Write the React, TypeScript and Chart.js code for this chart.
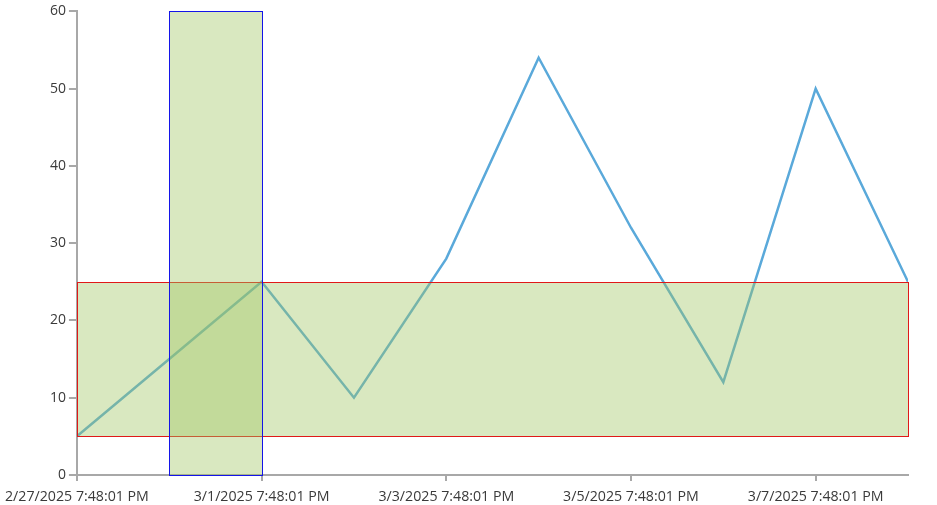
import React, { useEffect, useRef } from "react";
import { Chart, registerables } from "chart.js";

Chart.register(...registerables);

const dateLabels = [
  "2/27/2025 7:48:01 PM",
  "2/28/2025 7:48:01 PM",
  "3/1/2025 7:48:01 PM",
  "3/2/2025 7:48:01 PM",
  "3/3/2025 7:48:01 PM",
  "3/4/2025 7:48:01 PM",
  "3/5/2025 7:48:01 PM",
  "3/6/2025 7:48:01 PM",
  "3/7/2025 7:48:01 PM",
  "3/8/2025 7:48:01 PM",
];
const dayIndex = [0, 1, 2, 3, 4, 5, 6, 7, 8, 9];
const values = [5, 15, 25, 10, 28, 54, 32, 12, 50, 25];

// boxes: [xMin, xMax, yMin, yMax]
const verticalBox = [1, 2, 0, 60];
const horizontalBox = [0, 9, 5, 25];

const boxPlugin = {
  id: "boxes",
  afterDatasetsDraw(chart: any) {
    const { ctx, scales } = chart;
    const x = scales.x;
    const y = scales.y;
    const draw = (b: number[], stroke: string) => {
      const x1 = Math.round(x.getPixelForValue(b[0])) + 0.5;
      const x2 = Math.round(x.getPixelForValue(b[1])) + 0.5;
      const y1 = Math.round(y.getPixelForValue(b[3])) + 0.5;
      const y2 = Math.round(y.getPixelForValue(b[2])) + 0.5;
      ctx.save();
      ctx.fillStyle = "rgba(160,197,98,0.4)";
      ctx.fillRect(x1, y1, x2 - x1, y2 - y1);
      ctx.strokeStyle = stroke;
      ctx.lineWidth = 1;
      ctx.strokeRect(x1, y1, x2 - x1, y2 - y1);
      ctx.restore();
    };
    draw(horizontalBox, "#e01818");
    draw(verticalBox, "#1414e8");
  },
};

export default function App() {
  const ref = useRef<HTMLCanvasElement>(null);
  useEffect(() => {
    if (!ref.current) return;
    const fam = "'Open Sans', 'Noto Sans', sans-serif";
    const chart = new Chart(ref.current, {
      type: "line",
      data: {
        datasets: [
          {
            data: dayIndex.map((d, i) => ({ x: d, y: values[i] })),
            borderColor: "#5aa9da",
            borderWidth: 2.5,
            pointRadius: 0,
            tension: 0,
            fill: false,
          },
        ],
      },
      options: {
        animation: false,
        responsive: false,
        layout: { padding: { top: 6, right: 29, left: 0, bottom: 0 } },
        plugins: { legend: { display: false }, tooltip: { enabled: false } },
        scales: {
          x: {
            type: "linear",
            min: 0,
            max: 9,
            border: { color: "#a8a8a8", width: 2 },
            grid: { drawOnChartArea: false, drawTicks: true, tickLength: 6, color: "#a8a8a8", lineWidth: 2 },
            ticks: {
              stepSize: 2,
              includeBounds: false,
              maxRotation: 0,
              autoSkip: false,
              color: "#3a3a3a",
              font: { family: fam, size: 14.2 },
              padding: 7,
              callback: (v: any) => dateLabels[v] ?? "",
            },
          },
          y: {
            min: 0,
            max: 60,
            border: { color: "#a8a8a8", width: 2 },
            grid: { drawOnChartArea: false, drawTicks: true, tickLength: 8, color: "#a8a8a8", lineWidth: 2 },
            ticks: { stepSize: 10, color: "#3a3a3a", font: { family: fam, size: 14 }, padding: 3 },
          },
        },
      },
      plugins: [boxPlugin],
    });
    return () => chart.destroy();
  }, []);
  return (
    <div style={{ position: "fixed", left: 0, top: 0, width: 937, height: 505, background: "#fff", overflow: "hidden" }}>
      <canvas ref={ref} width={939} height={512} style={{ display: "block", marginLeft: -2 }} />
    </div>
  );
}
